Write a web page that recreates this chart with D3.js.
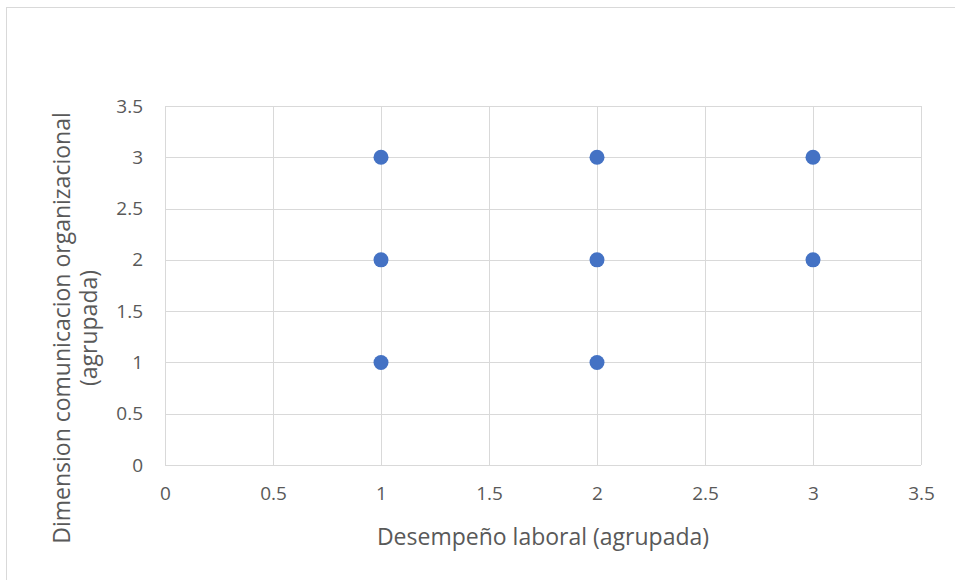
<!DOCTYPE html>
<html><head><meta charset="utf-8">
<script src="https://cdn.jsdelivr.net/npm/d3@7"></script>
<style>body{margin:0;background:#fff}svg{display:block}</style>
</head><body>
<svg id="c" width="955" height="580"></svg>
<script>
const xValues = [1, 1, 1, 2, 2, 2, 3, 3];
const yValues = [1, 2, 3, 1, 2, 3, 2, 3];
const xTicks = [0, 0.5, 1, 1.5, 2, 2.5, 3, 3.5];
const yTicks = [0, 0.5, 1, 1.5, 2, 2.5, 3, 3.5];
const xTitle = "Desempeño laboral (agrupada)";
const yTitleLines = ["Dimension comunicacion organizacional", "(agrupada)"];

const svg = d3.select("#c");
const font = "'Open Sans', sans-serif";
svg.append("rect").attr("x", 6.5).attr("y", 7.5).attr("width", 1000).attr("height", 1000)
  .attr("fill", "#fff").attr("stroke", "#d9d9d9");

const x = d3.scaleLinear().domain([0, 3.5]).range([165, 921]);
const y = d3.scaleLinear().domain([0, 3.5]).range([465, 106]);

const grid = svg.append("g");
grid.selectAll("line.v").data(xTicks).join("line")
  .attr("x1", d => Math.round(x(d)) + 0.5).attr("x2", d => Math.round(x(d)) + 0.5)
  .attr("y1", y(3.5)).attr("y2", y(0)).attr("stroke", "#d9d9d9");
grid.selectAll("line.h").data(yTicks).join("line")
  .attr("y1", d => Math.round(y(d)) + 0.5).attr("y2", d => Math.round(y(d)) + 0.5)
  .attr("x1", x(0)).attr("x2", x(3.5)).attr("stroke", "#d9d9d9");

const fmt = d => String(d);
const xAxis = svg.append("g").attr("transform", `translate(0,${y(0)})`)
  .call(d3.axisBottom(x).tickValues(xTicks).tickFormat(fmt).tickSize(0).tickPadding(22));
xAxis.select(".domain").remove();
xAxis.selectAll("text").attr("fill", "#595959").attr("font-size", 19).attr("font-family", font);

const yAxis = svg.append("g").attr("transform", `translate(${x(0)},0)`)
  .call(d3.axisLeft(y).tickValues(yTicks).tickFormat(fmt).tickSize(0).tickPadding(22));
yAxis.select(".domain").remove();
yAxis.selectAll("text").attr("fill", "#595959").attr("font-size", 19).attr("font-family", font);

const pts = xValues.map((v, i) => [v, yValues[i]]);
svg.append("g").selectAll("circle").data(pts).join("circle")
  .attr("cx", d => x(d[0])).attr("cy", d => y(d[1])).attr("r", 7.5)
  .attr("fill", "#4472c4");

svg.append("text").attr("x", 543).attr("y", 545).attr("text-anchor", "middle")
  .attr("fill", "#595959").attr("font-size", 23).attr("font-family", font).text(xTitle);

const yt = svg.append("text").attr("transform", "rotate(-90)")
  .attr("text-anchor", "middle").attr("fill", "#595959").attr("font-size", 23).attr("font-family", font);
yTitleLines.forEach((t, i) => {
  yt.append("tspan").attr("x", -328).attr("y", 70 + i * 27).text(t);
});
</script>
</body></html>
